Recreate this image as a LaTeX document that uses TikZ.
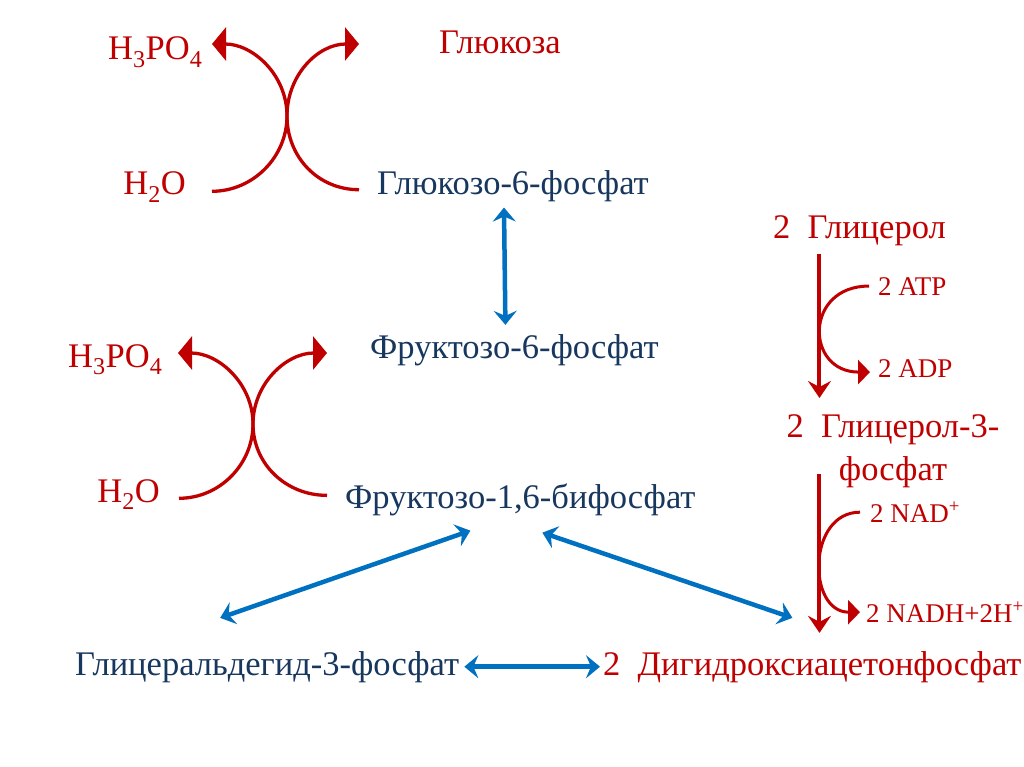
\documentclass[tikz,border=0pt]{standalone}
\usepackage{fontspec}
\setmainfont{Liberation Serif}
\usetikzlibrary{arrows.meta,positioning,calc}
\definecolor{ink}{HTML}{17375E}
\definecolor{redInk}{HTML}{C00000}
\definecolor{flowBlue}{HTML}{0070C0}
\tikzset{
  metab/.style={inner sep=0pt,text=ink,font=\fontsize{34.5}{41}\selectfont},
  redmetab/.style={metab,text=redInk},
  cofactor/.style={inner sep=0pt,text=redInk,font=\fontsize{27}{32}\selectfont},
  equil/.style={{Stealth[length=14pt,width=23pt,inset=5pt]}-{Stealth[length=14pt,width=23pt,inset=5pt]},
    draw=flowBlue,line width=4.5pt},
  oneway/.style={-{Stealth[length=17pt,width=23pt,inset=6pt]},draw=redInk,line width=4pt},
  side/.style={-{Triangle[length=12pt,width=24pt]},draw=redInk,line width=3pt},
  split/.style={-{Triangle[length=14pt,width=33pt]},draw=redInk,line width=3.3pt}
}

\begin{document}
\begin{tikzpicture}[x=1pt,y=-1pt]
  \fill[white] (0,0) rectangle (1024,767);

  % main chain, glucose down to the trioses
  \node[redmetab,anchor=base] (glucose) at (500,54) {Глюкоза};
  \node[metab,anchor=base west] (g6p) at (377,195) {Глюкозо-6-фосфат};
  \node[metab,anchor=base west] (f6p) at (370,358) {Фруктозо-6-фосфат};
  \node[metab,anchor=base west] (f16bp) at (345,508) {Фруктозо-1,6-бифосфат};
  \node[metab,anchor=base west] (gap) at (75,675) {Глицеральдегид-3-фосфат};
  \node[redmetab,anchor=base west] (dhap) at (603,675) {2~~Дигидроксиацетонфосфат};

  % phosphatase side products
  \node[redmetab,anchor=base west] (acidA) at (108,60) {H\textsubscript{3}PO\textsubscript{4}};
  \node[redmetab,anchor=base east] (waterA) at (186,195) {H\textsubscript{2}O};
  \node[redmetab,anchor=base west] (acidB) at (68,367) {H\textsubscript{3}PO\textsubscript{4}};
  \node[redmetab,anchor=base east] (waterB) at (160,502) {H\textsubscript{2}O};

  % glycerol branch
  \node[redmetab,anchor=base west] (glycerol) at (773,238) {2~~Глицерол};
  \node[cofactor,anchor=base west] (atp) at (878,295) {2 ATP};
  \node[cofactor,anchor=base west] (adp) at (878,377) {2 ADP};
  \node[redmetab,align=center,font=\fontsize{34.5}{43}\selectfont,anchor=north] (g3p)
    at (893,414) {2~~Глицерол-3-\\фосфат};
  \node[cofactor,anchor=base west] (nad) at (870,522) {2 NAD\textsuperscript{+}};
  \node[cofactor,anchor=base west] (nadh) at (866,622) {2 NADH+2H\textsuperscript{+}};

  % reversible steps
  \draw[equil] ($(g6p.south)+(-9,5)$) -- ($(f6p.north)+(-9,-9)$);
  \draw[equil] ($(f16bp.south)+(-50,15)$) -- ($(gap.north)+(-47,-33)$);
  \draw[equil] ($(f16bp.south)+(22,17)$) -- ($(dhap.north)+(-20,-33)$);
  \draw[equil] ($(gap.east)+(5,0)$) -- ($(dhap.west)+(-3,0)$);

  % crossed arcs: water in, phosphate and product out
  \coordinate (crossA) at (287,116);
  \coordinate (acidTipA) at (212,44);
  \coordinate (outTipA) at (359,44);
  \draw[split] ($(waterA.east)+(26,4)$) .. controls +(41,0) and +(0,41) .. (crossA)
    .. controls +(0,-41) and +(41,0) .. (acidTipA);
  \draw[split] ($(g6p.west)+(-18,3)$) .. controls +(-41,0) and +(0,41) .. (crossA)
    .. controls +(0,-41) and +(-41,0) .. (outTipA);

  \coordinate (crossB) at (253,424);
  \coordinate (acidTipB) at (178,353);
  \coordinate (outTipB) at (327,353);
  \draw[split] ($(waterB.east)+(19,4)$) .. controls +(41,0) and +(0,40) .. (crossB)
    .. controls +(0,-40) and +(41,0) .. (acidTipB);
  \draw[split] ($(f16bp.west)+(-18,-4)$) .. controls +(-41,0) and +(0,40) .. (crossB)
    .. controls +(0,-40) and +(-41,0) .. (outTipB);

  % glycerol kinase and dehydrogenase
  \coordinate (railTopA) at ($(glycerol.south)+(-40,8)$);
  \draw[oneway] (railTopA) -- ($(railTopA |- g3p.north)+(0,-16)$);
  \draw[side] ($(atp.west)+(-9,0)$) .. controls +(-65,0) and +(-65,0) .. ($(adp.west)+(-8,4)$);

  \coordinate (railTopB) at ($(railTopA |- g3p.south)+(0,-14)$);
  \draw[oneway] (railTopB) -- ($(railTopB |- dhap.north)+(0,-18)$);
  \draw[side] ($(nad.west)+(-10,0)$) .. controls +(-53,0) and +(-53,0) .. ($(nadh.west)+(-6,0)$);

  \path[use as bounding box] (0,0) rectangle (1024,767);
\end{tikzpicture}
\end{document}
